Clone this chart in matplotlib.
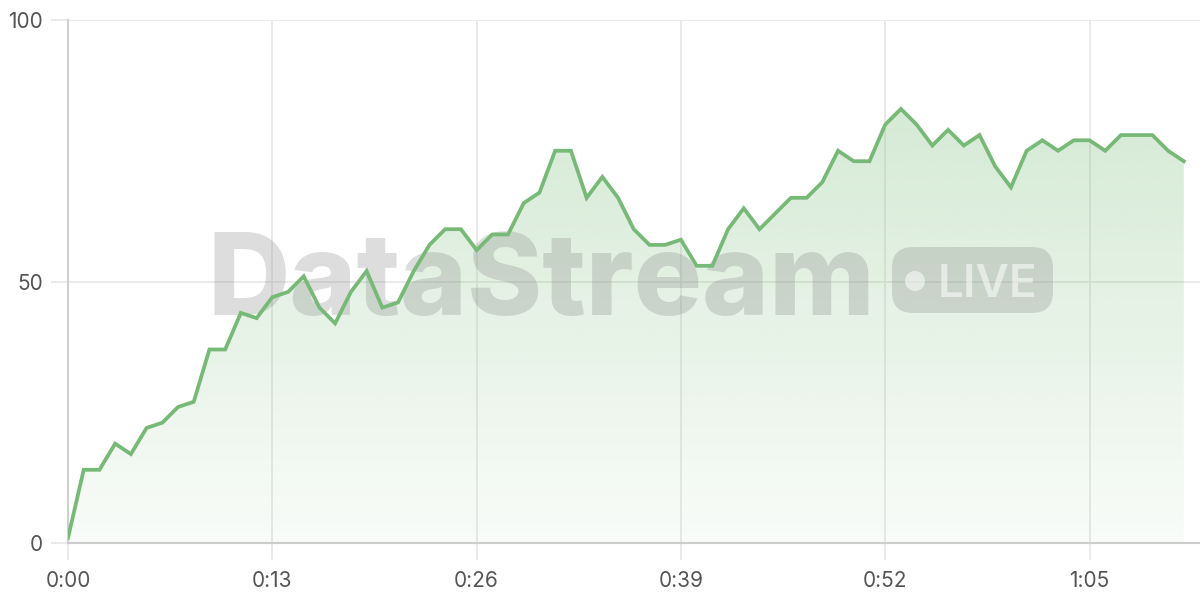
import matplotlib
matplotlib.use('Agg')
import matplotlib.pyplot as plt
import numpy as np
from matplotlib.patches import FancyBboxPatch, Circle
from matplotlib.transforms import IdentityTransform

plt.rcParams['font.family'] = ['Inter', 'DejaVu Sans']

# seconds since start, one sample per second
seconds = list(range(72))
values = [1, 14, 14, 19, 17, 22, 23, 26, 27, 37, 37, 44, 43, 47, 48, 51, 45, 42,
          48, 52, 45, 46, 52, 57, 60, 60, 56, 59, 59, 65, 67, 75, 75, 66, 70, 66,
          60, 57, 57, 58, 53, 53, 60, 64, 60, 63, 66, 66, 69, 75, 73, 73, 80, 83,
          80, 76, 79, 76, 78, 72, 68, 75, 77, 75, 77, 77, 75, 78, 78, 78, 75, 73]
x_ticks = [0, 13, 26, 39, 52, 65]
x_tick_labels = ['0:00', '0:13', '0:26', '0:39', '0:52', '1:05']
y_ticks = [0, 50, 100]

line_color = '#77b977'
grid_color = '#e6e6e6'
H = 600  # figure height in pixels, for the watermark placement

fig = plt.figure(figsize=(12, 6), dpi=100)
ax = fig.add_axes([68 / 1200, 57 / 600, 1 - 68 / 1200, (543 - 20) / 600])

# gradient fill under the line
poly = ax.fill_between(seconds, values, 0, color='none', lw=0)
rgba = np.zeros((256, 1, 4))
rgba[..., :3] = matplotlib.colors.to_rgb('#7cbd7c')
rgba[..., 3] = np.linspace(0.05, 0.32, 256).reshape(-1, 1)
img = ax.imshow(rgba, extent=[0, 72.03, 0, max(values)], origin='lower',
                aspect='auto', zorder=1, interpolation='bilinear')
img.set_clip_path(poly.get_paths()[0], transform=ax.transData)
ax.set_xlim(0, 72.03)
ax.set_ylim(0, 100)

ax.plot(seconds, values, color=line_color, lw=2.7, zorder=4,
        solid_joinstyle='miter')

# watermark (pixel coordinates)
px = IdentityTransform()
wm_gray = (0.53, 0.53, 0.53, 0.28)
knock = (1, 1, 1, 0.55)
ax.text(541, H - 315, 'DataStream', fontsize=82, fontweight='heavy',
        color=wm_gray, ha='center', va='baseline', transform=px, zorder=3)
ax.add_patch(FancyBboxPatch((892, H - 313), 161, 66,
                            boxstyle='round,pad=0,rounding_size=21',
                            transform=px, facecolor=wm_gray,
                            edgecolor='none', zorder=3))
ax.add_patch(Circle((915, H - 281), 10, transform=px,
                    facecolor=knock, edgecolor='none', zorder=3))
ax.text(987, H - 297, 'LIVE', fontsize=33, fontweight='semibold',
        color=knock, ha='center', va='baseline', transform=px, zorder=3)

# axes styling
ax.set_xticks(x_ticks)
ax.set_xticklabels(x_tick_labels)
ax.set_yticks(y_ticks)
ax.grid(True, color=grid_color, lw=1.2, zorder=0)
ax.set_axisbelow(True)
for s in ['top', 'right']:
    ax.spines[s].set_visible(False)
ax.spines['left'].set_color('#d0d0d0')
ax.spines['left'].set_linewidth(1.5)
ax.spines['bottom'].set_color('#cccccc')
ax.spines['bottom'].set_linewidth(1.5)
ax.tick_params(axis='both', length=12, width=1.2, color=grid_color,
               labelsize=15, labelcolor='#555555')
ax.tick_params(axis='x', pad=8)
ax.tick_params(axis='y', pad=6)

fig.savefig('out.png', dpi=100)
